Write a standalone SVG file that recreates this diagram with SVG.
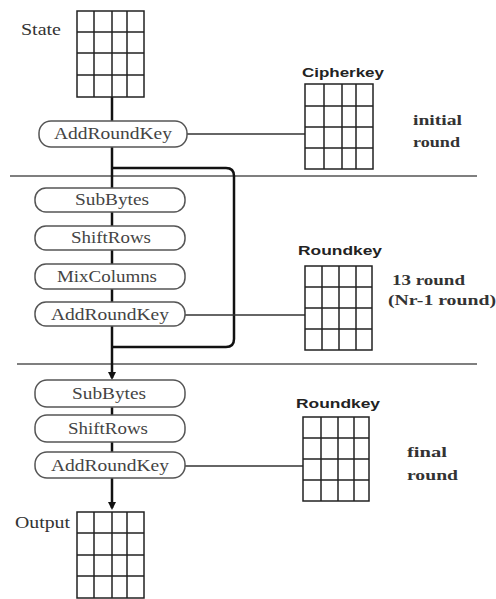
<svg xmlns="http://www.w3.org/2000/svg" width="496" height="599" viewBox="0 0 496 599">
<style>
.box{fill:#fff;stroke:#555;stroke-width:1.5}
.bt{font-family:'Liberation Serif','DejaVu Serif','Times New Roman',serif;font-size:16px;fill:#444;text-anchor:middle}
.grid{fill:#fff;stroke:#222;stroke-width:1.5}
.gl{stroke:#222;stroke-width:1.5}
.lbl{font-family:'Liberation Serif','DejaVu Serif','Times New Roman',serif;font-size:16px;fill:#333}
.kl{font-family:'Liberation Sans',Arial,sans-serif;font-size:13px;font-weight:bold;fill:#222;text-anchor:middle}
.rl{font-family:'Liberation Serif','DejaVu Serif','Times New Roman',serif;font-size:15px;font-weight:bold;fill:#333}
.sep{stroke:#555;stroke-width:1.5}
.thin{stroke:#333;stroke-width:1.3;fill:none}
.thick{stroke:#111;stroke-width:2.5;fill:none}
</style>
<defs>
<marker id="ah" markerWidth="8" markerHeight="8" refX="6" refY="4" orient="auto" markerUnits="userSpaceOnUse">
<path d="M0,0 L8,4 L0,8 Z" fill="#111"/>
</marker>
</defs>

<g id="separators">
<line class="sep" x1="10" y1="176" x2="477" y2="176"/>
<line class="sep" x1="17" y1="364" x2="477" y2="364"/>
</g>

<g id="connectors">
<line class="thick" x1="112" y1="97" x2="112" y2="121"/>
<line class="thick" x1="112" y1="147" x2="112" y2="188"/>
<path class="thick" d="M112,168 H226 Q234,168 234,176 V339 Q234,347 226,347 H112"/>
<line class="thick" x1="112" y1="212" x2="112" y2="226"/>
<line class="thick" x1="112" y1="250" x2="112" y2="264"/>
<line class="thick" x1="112" y1="289" x2="112" y2="302"/>
<line class="thick" x1="112" y1="326" x2="112" y2="378" marker-end="url(#ah)"/>
<line class="thick" x1="112" y1="407" x2="112" y2="415"/>
<line class="thick" x1="112" y1="442" x2="112" y2="452"/>
<line class="thick" x1="112" y1="478" x2="112" y2="508" marker-end="url(#ah)"/>
<line class="thin" x1="187" y1="134" x2="305" y2="134"/>
<line class="thin" x1="185" y1="315" x2="305" y2="315"/>
<line class="thin" x1="185" y1="466" x2="303" y2="466"/>
</g>

<g id="state">
<text class="lbl" x="21" y="35" textLength="40" lengthAdjust="spacingAndGlyphs">State</text>
<rect class="grid" x="77" y="11" width="67" height="86"/>
<path class="gl" d="M94,11V97M112,11V97M127,11V97M77,32H144M77,53H144M77,75H144"/>
</g>

<g id="ark0">
<rect class="box" x="39" y="121" width="148" height="26" rx="12"/>
<text class="bt" x="113" y="139" textLength="118" lengthAdjust="spacingAndGlyphs">AddRoundKey</text>
</g>

<g id="cipherkey">
<text class="kl" x="343" y="77" textLength="82" lengthAdjust="spacingAndGlyphs">Cipherkey</text>
<rect class="grid" x="305" y="84" width="68" height="85"/>
<path class="gl" d="M324,84V169M342,84V169M356,84V169M305,106H373M305,127H373M305,148H373"/>
</g>
<g id="initial-label">
<text class="rl" x="413" y="125" textLength="49" lengthAdjust="spacingAndGlyphs">initial</text>
<text class="rl" x="413" y="147" textLength="47" lengthAdjust="spacingAndGlyphs">round</text>
</g>

<g id="sb1">
<rect class="box" x="35" y="188" width="150" height="24" rx="11"/>
<text class="bt" x="112" y="205" textLength="74" lengthAdjust="spacingAndGlyphs">SubBytes</text>
</g>
<g id="sr1">
<rect class="box" x="35" y="226" width="150" height="24" rx="11"/>
<text class="bt" x="111" y="243" textLength="80" lengthAdjust="spacingAndGlyphs">ShiftRows</text>
</g>
<g id="mc1">
<rect class="box" x="35" y="264" width="150" height="25" rx="11"/>
<text class="bt" x="107" y="282" textLength="100" lengthAdjust="spacingAndGlyphs">MixColumns</text>
</g>
<g id="ark1">
<rect class="box" x="35" y="302" width="150" height="24" rx="11"/>
<text class="bt" x="110" y="320" textLength="118" lengthAdjust="spacingAndGlyphs">AddRoundKey</text>
</g>

<g id="roundkey1">
<text class="kl" x="340" y="255" textLength="84" lengthAdjust="spacingAndGlyphs">Roundkey</text>
<rect class="grid" x="305" y="266" width="67" height="84"/>
<path class="gl" d="M322,266V350M339,266V350M356,266V350M305,287H372M305,308H372M305,329H372"/>
</g>
<g id="mid-label">
<text class="rl" x="392" y="285" textLength="73" lengthAdjust="spacingAndGlyphs">13 round</text>
<text class="rl" x="388" y="305" textLength="108" lengthAdjust="spacingAndGlyphs">(Nr-1 round)</text>
</g>

<g id="sb2">
<rect class="box" x="35" y="380" width="150" height="27" rx="12"/>
<text class="bt" x="109" y="399" textLength="74" lengthAdjust="spacingAndGlyphs">SubBytes</text>
</g>
<g id="sr2">
<rect class="box" x="35" y="415" width="150" height="27" rx="12"/>
<text class="bt" x="108" y="434" textLength="80" lengthAdjust="spacingAndGlyphs">ShiftRows</text>
</g>
<g id="ark2">
<rect class="box" x="35" y="452" width="150" height="26" rx="12"/>
<text class="bt" x="110" y="471" textLength="118" lengthAdjust="spacingAndGlyphs">AddRoundKey</text>
</g>

<g id="roundkey2">
<text class="kl" x="338" y="408" textLength="84" lengthAdjust="spacingAndGlyphs">Roundkey</text>
<rect class="grid" x="303" y="417" width="66" height="84"/>
<path class="gl" d="M321,417V501M338,417V501M354,417V501M303,438H369M303,459H369M303,480H369"/>
</g>
<g id="final-label">
<text class="rl" x="407" y="457" textLength="40" lengthAdjust="spacingAndGlyphs">final</text>
<text class="rl" x="407" y="480" textLength="51" lengthAdjust="spacingAndGlyphs">round</text>
</g>

<g id="output">
<text class="lbl" x="15" y="528" textLength="55" lengthAdjust="spacingAndGlyphs">Output</text>
<rect class="grid" x="77" y="512" width="67" height="86"/>
<path class="gl" d="M94,512V598M112,512V598M127,512V598M77,533H144M77,555H144M77,576H144"/>
</g>
</svg>
